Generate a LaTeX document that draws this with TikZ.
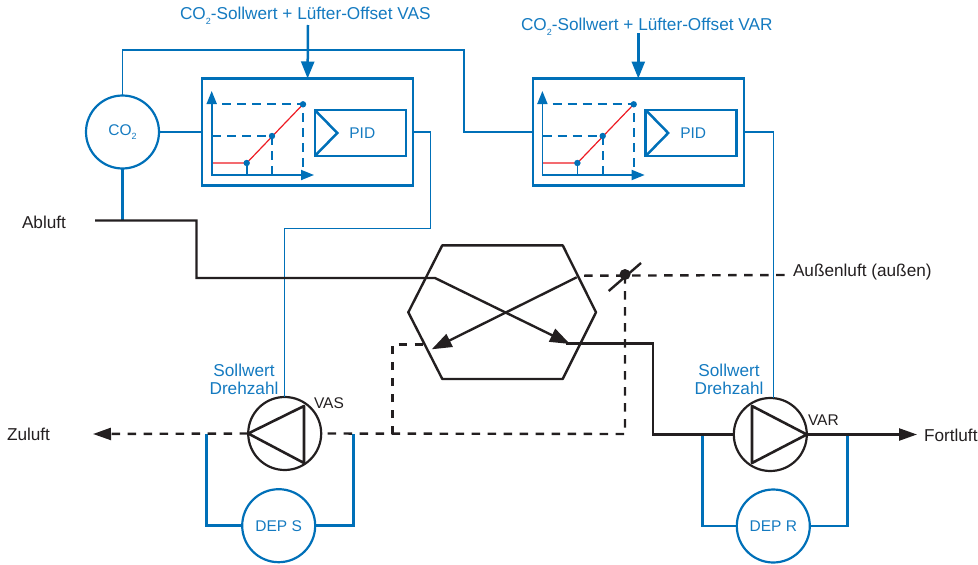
\documentclass[tikz,border=0pt]{standalone}
\usepackage{fontspec}
\setmainfont{Liberation Sans}
\definecolor{ctlblue}{RGB}{0,112,184}
\definecolor{labelblue}{RGB}{20,122,192}
\definecolor{airblack}{RGB}{35,31,32}
\definecolor{curvered}{RGB}{237,28,36}
\usetikzlibrary{positioning,arrows.meta,calc}
\newcommand{\cotwo}{CO\raisebox{-.5ex}{\fontsize{9}{9}\selectfont 2}}

\begin{document}
\begin{tikzpicture}[
    x=1pt,y=-1pt,
    every node/.style={font=\fontsize{17.2}{18.5}\selectfont,inner sep=0pt,outer sep=0pt},
    small/.style={font=\fontsize{15.5}{18}\selectfont},
    bluetext/.style={text=labelblue,align=center},
    blacktext/.style={text=airblack},
    ctlbox/.style={rectangle,draw=ctlblue,line width=2.5pt,minimum width=211pt,minimum height=107pt},
    pidbox/.style={rectangle,draw=ctlblue,line width=2.5pt,minimum width=91pt,minimum height=46pt,text=labelblue,small},
    sensor/.style={circle,draw=ctlblue,line width=2.2pt,minimum size=73pt,text=labelblue,small},
    fan/.style={circle,draw=airblack,line width=2.2pt,minimum size=73pt},
    signal/.style={ctlblue,line width=1.2pt},
    bypass/.style={ctlblue,line width=2.5pt},
    duct/.style={airblack,line width=2.4pt},
    ductdash/.style={airblack,line width=2.4pt,dash pattern=on 8.5pt off 7.5pt},
    axisarrow/.style={ctlblue,line width=1.8pt,-{Triangle[length=13pt,width=10pt]}},
    setarrow/.style={ctlblue,line width=2.5pt,-{Triangle[length=17pt,width=13pt]}},
    airarrow/.style={airblack,line width=2.4pt,-{Triangle[length=18pt,width=12pt]}},
    hexarrow/.style={airblack,line width=2.4pt,-{Triangle[length=20pt,width=14pt]}}
]
    \useasboundingbox (0,0) rectangle (978,565);

    % regler
    \node[ctlbox] (boxvas) at (307.6,132) {};
    \node[ctlbox] (boxvar) at (638.3,132) {};
    \node[pidbox] (pidvas) at (360.3,133) {\hspace{4pt}PID};
    \node[pidbox] (pidvar) at (691.2,133) {\hspace{4pt}PID};
    \draw[ctlblue,line width=2.5pt] (pidvas.north west) -- ($(pidvas.west)+(22.5,0)$) -- (pidvas.south west);
    \draw[ctlblue,line width=2.5pt] (pidvar.north west) -- ($(pidvar.west)+(22.5,0)$) -- (pidvar.south west);

    \foreach \xo in {0,330.7} {
        \begin{scope}[shift={(\xo,0)}]
            \draw[ctlblue,line width=1.7pt,dash pattern=on 9pt off 6pt] (222,104.3) -- (303,104.3) -- (303,175);
            \draw[ctlblue,line width=1.7pt,dash pattern=on 9pt off 6pt] (212,136) -- (272,136) -- (272,175);
            \draw[ctlblue,line width=1.7pt] (246.7,163) -- (246.7,175);
            \draw[curvered,line width=1.2pt] (212,163) -- (246.7,163) -- (303,104.3);
            \draw[axisarrow] (211.7,175) -- (211.7,91);
            \draw[axisarrow] (211,175) -- (314,175);
            \foreach \px/\py in {246.7/163,272/136,303/104.3}
                \fill[ctlblue] (\px,\py) circle (3.2);
        \end{scope}
    }

    \node[sensor] (co2) at (122.5,132) {\cotwo};
    \node[sensor] (deps) at (278.7,525.7) {DEP S};
    \node[sensor] (depr) at (773.3,526) {DEP R};
    \node[fan] (fanvas) at (284.7,433.5) {};
    \node[fan] (fanvar) at (770.3,434.5) {};
    \draw[airblack,line width=2.6pt,line join=round] (fanvas.west) -- (304,406) -- (304,463) -- cycle;
    \draw[airblack,line width=2.6pt,line join=round] (fanvar.east) -- (752,406) -- (752,463) -- cycle;

    % texte
    \node[bluetext,anchor=west] (setvas) at (180,16) {\cotwo-Sollwert + Lüfter-Offset VAS};
    \node[bluetext,anchor=west] (setvar) at (521,27) {\cotwo-Sollwert + Lüfter-Offset VAR};
    \node[bluetext] (sollvas) at (244,379.5) {Sollwert\\Drehzahl};
    \node[bluetext] (sollvar) at (729,379.5) {Sollwert\\Drehzahl};
    \node[blacktext,small,anchor=west] (labvas) at (314,403) {VAS};
    \node[blacktext,small,anchor=west] (labvar) at (808,420) {VAR};
    \node[blacktext,anchor=west] (abluft) at (22,222) {Abluft};
    \node[blacktext,anchor=west] (zuluft) at (7,434.5) {Zuluft};
    \node[blacktext,anchor=west] (fortluft) at (924,435.5) {Fortluft};
    \node[blacktext,anchor=west] (aussen) at (793,272) {Außenluft (außen)};

    % hilfspunkte
    \coordinate (abstart) at (95,220.5);
    \coordinate (abtee) at (122.5,220.5);
    \coordinate (abknick) at (435,278);
    \coordinate (hexin) at (570,344);
    \coordinate (hexout) at (576.7,277.3);
    \coordinate (hexouttip) at (431.7,349.3);
    \coordinate (damper) at (625,275);
    \coordinate (aussenend) at (785,275);
    \coordinate (zutip) at (93,434);
    \coordinate (fortknick) at (653,434.5);
    \coordinate (forttip) at (917,434.5);
    \coordinate (zutee) at (392.3,434);

    % sollwerte
    \draw[setarrow] (308,25) -- (boxvas.north);
    \draw[setarrow] (638.3,33) -- (boxvar.north);

    % signale
    \draw[signal] (co2.north) -- (122.5,50) -- (464,50) -- (464,132) -- (boxvar.west);
    \draw[signal] (co2.east) -- (boxvas.west);
    \draw[ctlblue,line width=2.5pt] (co2.south) -- (abtee);
    \draw[signal] (boxvas.east) -- (430.5,132) -- (430.5,228.7) -- (284.7,228.7) -- (fanvas.north);
    \draw[signal] (boxvar.east) -- (773.3,132) -- (773.3,398);

    % dep
    \draw[bypass] (206.7,434) -- (206.7,525.7) -- (deps.west);
    \draw[bypass] (353.3,434) -- (353.3,525.7) -- (deps.east);
    \draw[bypass] (702.7,434.5) -- (702.7,526) -- (depr.west);
    \draw[bypass] (847.3,434.5) -- (847.3,526) -- (depr.east);

    % waermetauscher
    \draw[duct,line join=round] (442.3,245.3) -- (562.7,245.3) -- (596,312.3) -- (562.7,379) -- (442.3,379) -- (408.3,312.3) -- cycle;

    % luftwege
    \draw[hexarrow] (abstart) -- (196.5,220.5) -- (196.5,278) -- (abknick) -- (hexin);
    \draw[duct] (566,343.5) -- (653,343.5) -- (fortknick) -- (fanvar.west);
    \draw[airarrow] (fanvar.east) -- (forttip);
    \draw[hexarrow] (hexout) -- (hexouttip);

    \draw[ductdash] (584,275.7) -- (aussenend);
    \draw[ductdash] (damper) -- (625,434) -- (fanvas.east);
    \draw[ductdash] (zutee) -- (392.3,344.3) -- (425,344.3);
    \draw[airarrow,dash pattern=on 8.5pt off 7.5pt] (fanvas.west) -- (zutip);

    % klappe
    \draw[airblack,line width=2.4pt] (608.7,291) -- (641,263);
    \fill[airblack] (625,274.5) circle (5.5);
\end{tikzpicture}
\end{document}
